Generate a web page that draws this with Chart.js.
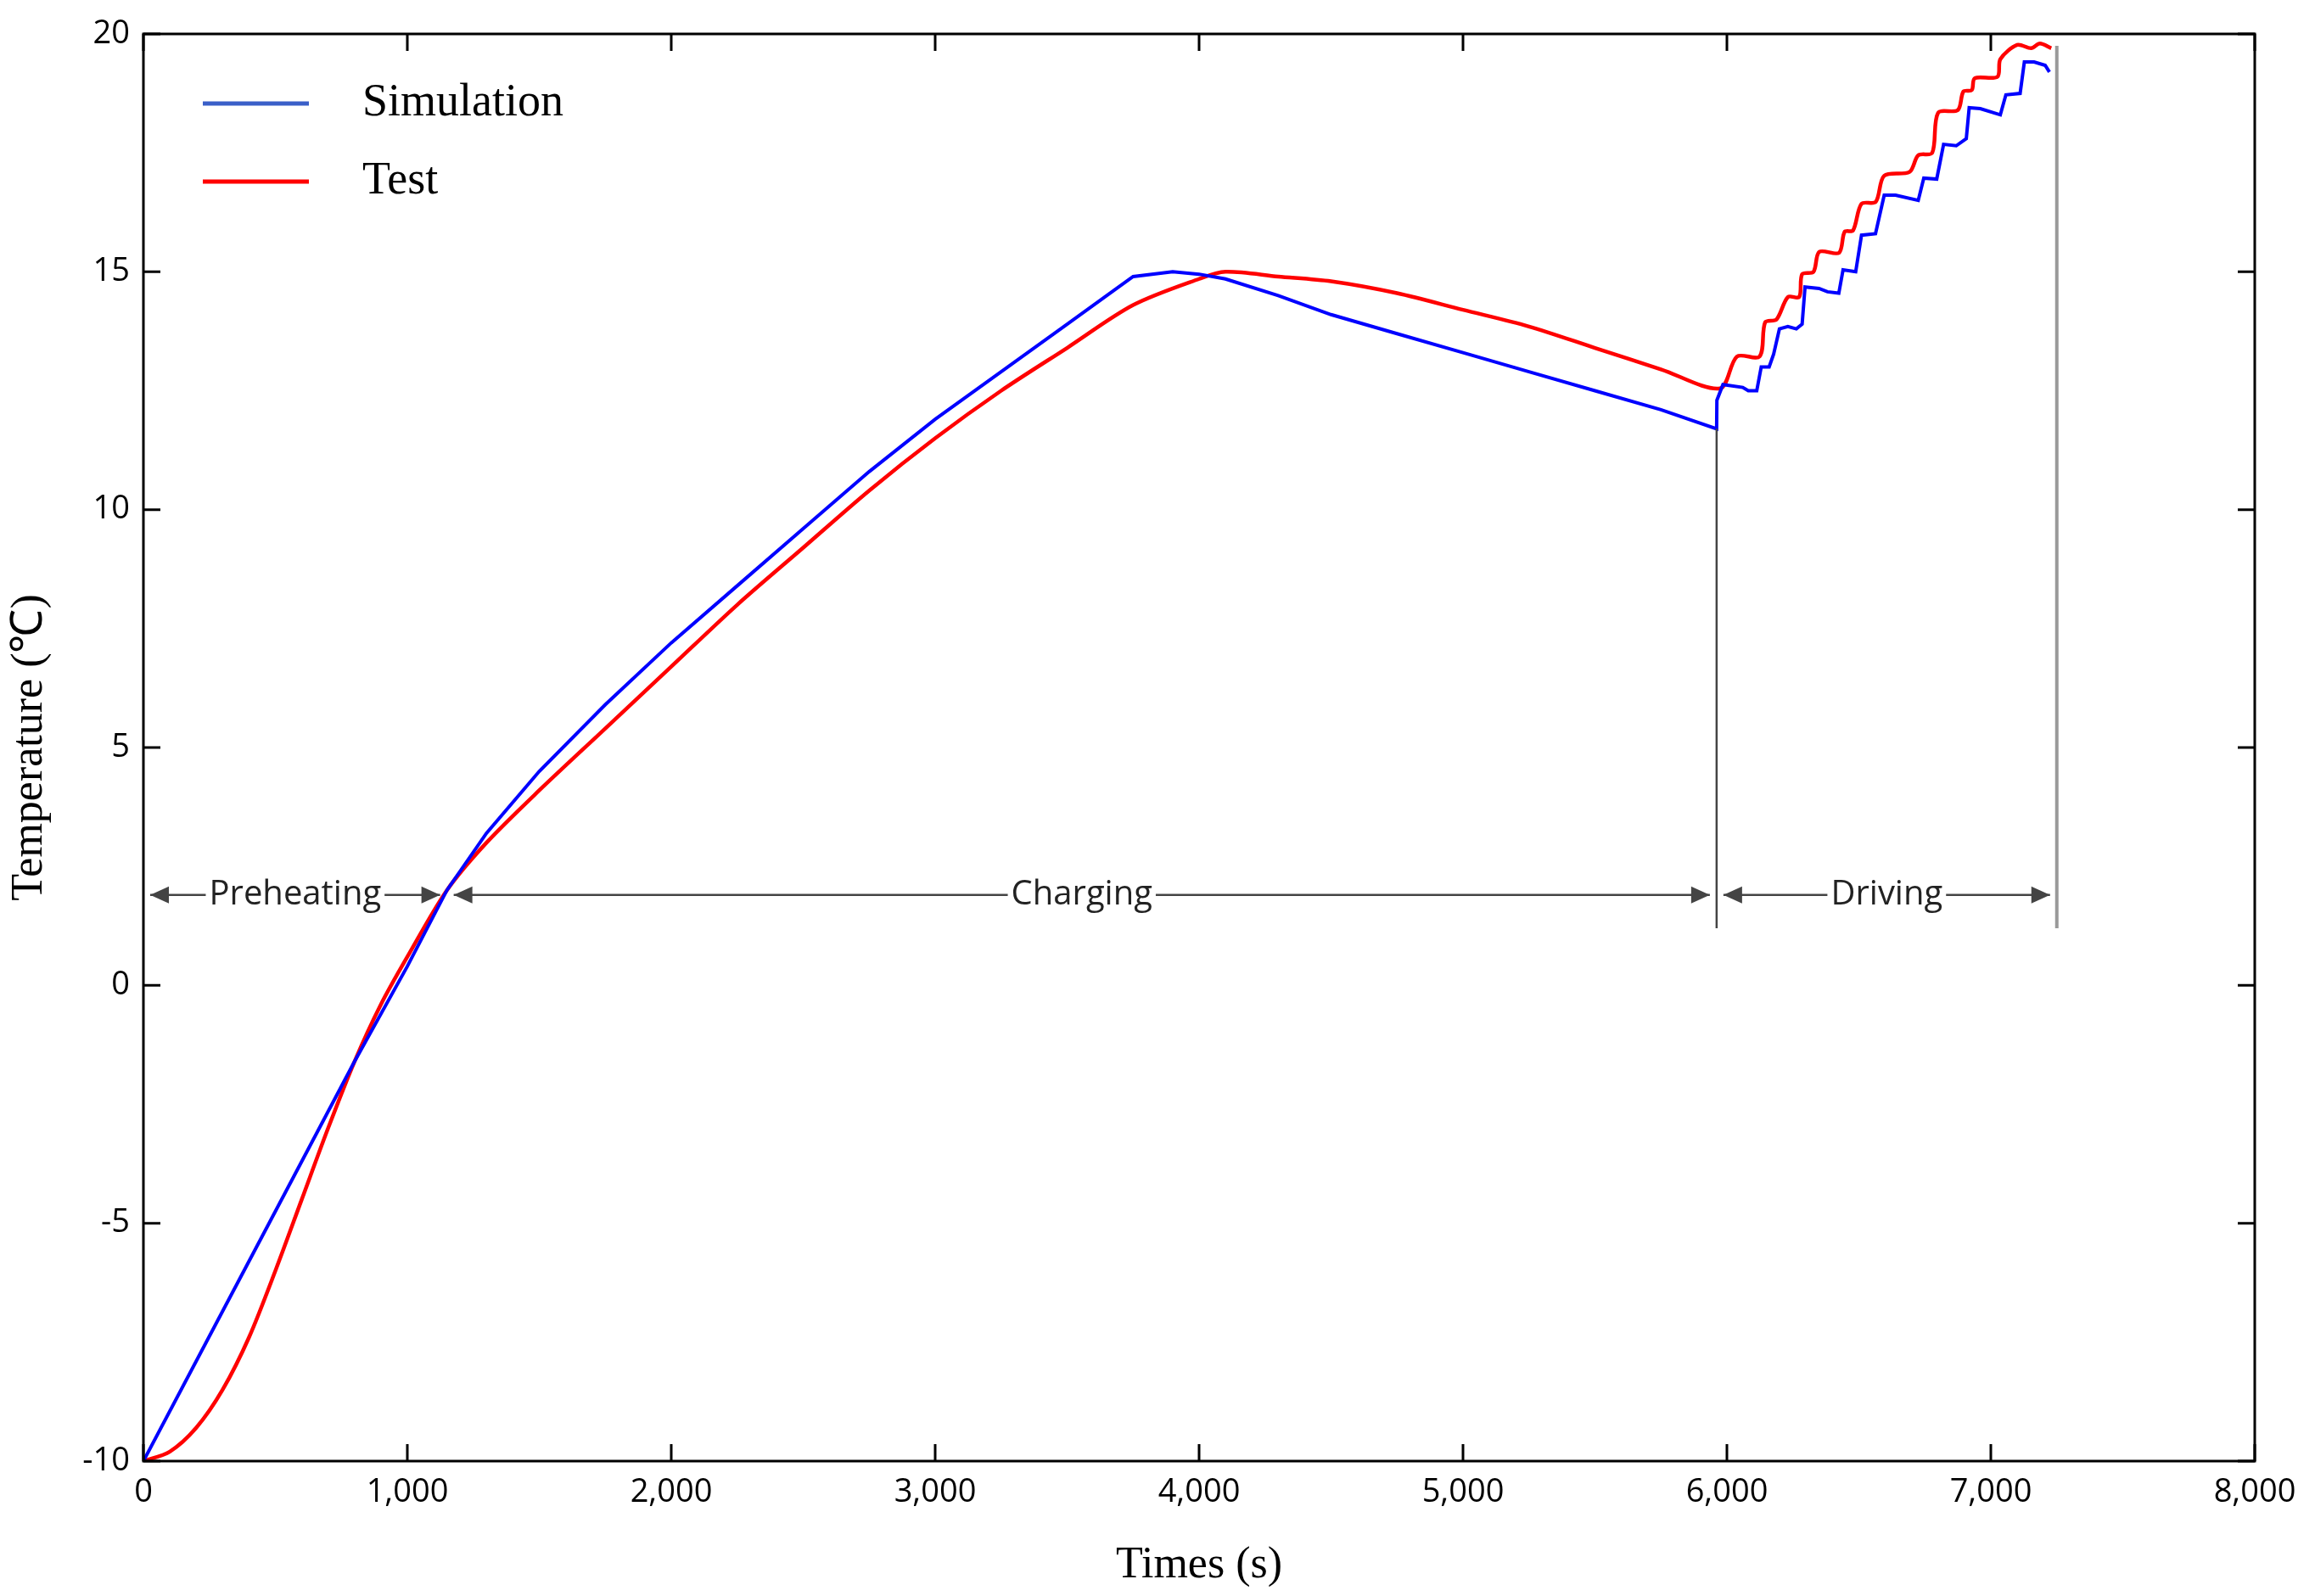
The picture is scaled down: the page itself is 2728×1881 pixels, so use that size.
<!DOCTYPE html>
<html><head><meta charset="utf-8">
<script src="https://cdn.jsdelivr.net/npm/chart.js@4"></script>
<style>html,body{margin:0;background:#fff}#w{width:2728px;height:1881px}</style>
</head><body><div id="w"><canvas id="c"></canvas></div>
<script>
const simX = [0,200,400,600,800,1000,1150,1300,1500,1750,2000,2250,2500,2750,3000,3250,3500,3650,3750,3900,4000,4100,4300,4500,4750,5000,5250,5500,5750,5961,5962,5985,6060,6081,6113,6130,6160,6177,6199,6231,6263,6285,6296,6349,6381,6424,6440,6488,6510,6563,6596,6639,6725,6746,6795,6821,6869,6907,6918,6960,7036,7057,7111,7127,7164,7206,7222];
const simY = [-10,-7.9,-5.8,-3.7,-1.6,0.4,2,3.2,4.5,5.9,7.2,8.4,9.6,10.8,11.9,12.9,13.9,14.5,14.9,15,14.95,14.85,14.5,14.1,13.7,13.3,12.9,12.5,12.1,11.7,12.3,12.63,12.57,12.5,12.5,13.0,13.0,13.27,13.8,13.85,13.8,13.9,14.68,14.65,14.58,14.55,15.04,15.0,15.77,15.8,16.61,16.61,16.5,16.97,16.95,17.68,17.65,17.8,18.45,18.43,18.3,18.72,18.75,19.41,19.41,19.34,19.2];
const testX = [0,100,200,300,400,500,600,700,800,900,1000,1150,1300,1500,1750,2000,2250,2500,2750,3000,3250,3500,3750,4000,4100,4300,4500,4750,5000,5250,5500,5750,5974,6038,6124,6145,6188,6231,6274,6285,6328,6350,6425,6446,6478,6510,6564,6596,6692,6725,6778,6800,6875,6896,6928,6939,7025,7036,7100,7153,7186,7229];
const testY = [-10,-9.8,-9.3,-8.5,-7.4,-6.0,-4.5,-3.0,-1.6,-0.4,0.6,2,3,4.1,5.4,6.7,8.0,9.2,10.4,11.5,12.5,13.4,14.3,14.85,15,14.9,14.8,14.55,14.2,13.85,13.4,12.95,12.55,13.22,13.22,13.94,14.0,14.47,14.47,14.95,15.0,15.42,15.4,15.84,15.87,16.43,16.47,17.02,17.1,17.45,17.5,18.34,18.4,18.79,18.82,19.07,19.1,19.47,19.77,19.7,19.8,19.7];
const xTicks = [0,1000,2000,3000,4000,5000,6000,7000,8000];
const yTicks = [-10,-5,0,5,10,15,20];
const phases = [{label:'Preheating',from:0,to:1150},{label:'Charging',from:1150,to:5961},{label:'Driving',from:5961,to:7250}];
const phaseY = 1.9, phaseLineBottom = 1.2;
const pts = (xs,ys)=>xs.map((x,i)=>({x,y:ys[i]}));

const deco = {
  id:'deco',
  afterDatasetsDraw(ch){
    const {ctx,chartArea:a,scales:{x,y}} = ch;
    ctx.save();
    // frame
    ctx.strokeStyle='#000'; ctx.lineWidth=3;
    ctx.strokeRect(a.left,a.top,a.right-a.left,a.bottom-a.top);
    ctx.lineWidth=3;
    xTicks.forEach(v=>{const px=x.getPixelForValue(v);
      ctx.beginPath();ctx.moveTo(px,a.bottom);ctx.lineTo(px,a.bottom-20);ctx.moveTo(px,a.top);ctx.lineTo(px,a.top+20);ctx.stroke();});
    yTicks.forEach(v=>{const py=y.getPixelForValue(v);
      ctx.beginPath();ctx.moveTo(a.left,py);ctx.lineTo(a.left+20,py);ctx.moveTo(a.right,py);ctx.lineTo(a.right-20,py);ctx.stroke();});
    // phase boundaries
    ctx.strokeStyle='#444'; ctx.lineWidth=2.5;
    ctx.beginPath();ctx.moveTo(x.getPixelForValue(5961),y.getPixelForValue(11.7));ctx.lineTo(x.getPixelForValue(5961),y.getPixelForValue(phaseLineBottom));ctx.stroke();
    ctx.strokeStyle='#999'; ctx.lineWidth=4;
    ctx.beginPath();ctx.moveTo(x.getPixelForValue(7250),y.getPixelForValue(19.75));ctx.lineTo(x.getPixelForValue(7250),y.getPixelForValue(phaseLineBottom));ctx.stroke();
    // arrows
    ctx.font='40px "Open Sans", "DejaVu Sans", sans-serif';
    ctx.textAlign='center'; ctx.textBaseline='middle';
    const py=y.getPixelForValue(phaseY);
    phases.forEach(p=>{
      const x1=x.getPixelForValue(p.from)+8,x2=x.getPixelForValue(p.to)-8;
      const tw=ctx.measureText(p.label).width, mid=(x1+x2)/2;
      ctx.strokeStyle='#444';ctx.fillStyle='#444';ctx.lineWidth=2.5;
      ctx.beginPath();ctx.moveTo(x1,py);ctx.lineTo(mid-tw/2-4,py);ctx.moveTo(mid+tw/2+4,py);ctx.lineTo(x2,py);ctx.stroke();
      [[x1,1],[x2,-1]].forEach(([ax,d])=>{ctx.beginPath();ctx.moveTo(ax,py);ctx.lineTo(ax+d*22,py-10);ctx.lineTo(ax+d*22,py+10);ctx.closePath();ctx.fill();});
      ctx.fillStyle='#222';ctx.fillText(p.label,mid,py);
    });
    // legend
    ctx.font='54px "Liberation Serif", serif'; ctx.textAlign='left';
    ch.data.datasets.forEach((d,i)=>{
      const ly=a.top+82+i*92;
      ctx.strokeStyle=d.borderColor===simColor?'#3a5fc8':d.borderColor;ctx.lineWidth=5;
      ctx.beginPath();ctx.moveTo(a.left+70,ly);ctx.lineTo(a.left+195,ly);ctx.stroke();
      ctx.fillStyle='#000';ctx.fillText(d.label,a.left+258,ly);
    });
    ctx.restore();
  }
};
const simColor='#0000ff';
new Chart(document.getElementById('c'),{
  type:'line',
  data:{datasets:[
    {label:'Simulation',data:pts(simX,simY),borderColor:simColor,borderWidth:4,pointRadius:0,tension:0},
    {label:'Test',data:pts(testX,testY),borderColor:'#ff0000',borderWidth:4.5,pointRadius:0,tension:0.3}
  ]},
  options:{responsive:true,maintainAspectRatio:false,animation:false,
    layout:{padding:{top:40,right:71,left:0,bottom:0}},
    plugins:{legend:{display:false},tooltip:{enabled:false}},
    scales:{
      x:{type:'linear',min:0,max:8000,afterBuildTicks:s=>{s.ticks=xTicks.map(v=>({value:v}))},
        afterFit:s=>{s.height=159},
        grid:{display:false},border:{display:false},
        ticks:{color:'#000',font:{size:38,family:'"Open Sans", sans-serif'},padding:6,maxRotation:0},
        title:{display:true,text:'Times (s)',color:'#000',font:{size:52,family:'"Liberation Serif", serif'},padding:{top:0}}},
      y:{min:-10,max:20,afterBuildTicks:s=>{s.ticks=yTicks.map(v=>({value:v}))},
        afterFit:s=>{s.width=169},
        grid:{display:false},border:{display:false},
        ticks:{color:'#000',font:{size:38,family:'"Open Sans", sans-serif'},padding:8},
        title:{display:true,text:'Temperature (℃)',color:'#000',font:{size:52,family:'"Liberation Serif", serif'},padding:{bottom:0}}}
    }
  },
  plugins:[deco]
});
</script></body></html>
